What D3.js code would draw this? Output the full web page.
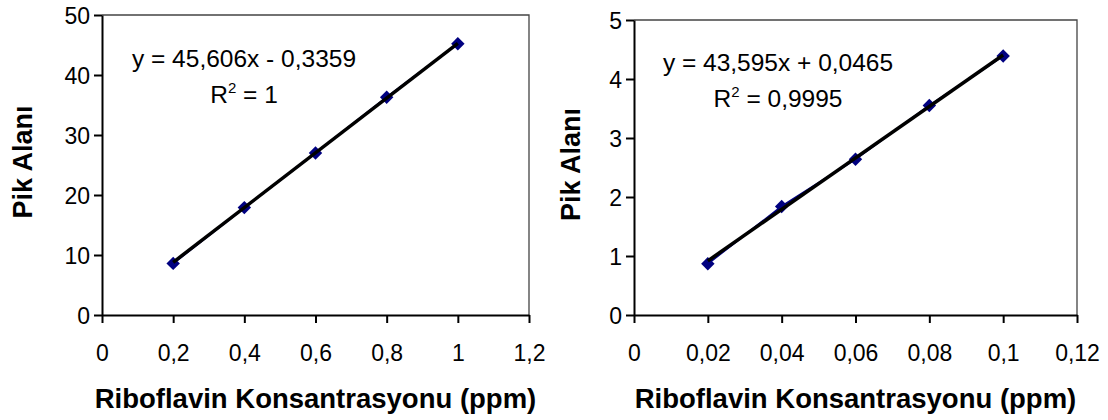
<!DOCTYPE html>
<html>
<head>
<meta charset="utf-8">
<script src="https://cdn.jsdelivr.net/npm/d3@7"></script>
<style>
  body { margin: 0; background: #fff; }
  svg { display: block; font-family: "Liberation Sans", Arial, sans-serif; }
</style>
</head>
<body>
<div id="chart"></div>
<script>
// Data
const concLeft = [0.2, 0.4, 0.6, 0.8, 1.0];
const areaLeft = [8.6, 17.9, 27.0, 36.3, 45.2];
const xTicksLeft = [0, 0.2, 0.4, 0.6, 0.8, 1.0, 1.2];
const yTicksLeft = [0, 10, 20, 30, 40, 50];
const fitLeft = { slope: 45.606, intercept: -0.3359, eq: "y = 45,606x - 0,3359", r2: "1" };

const concRight = [0.02, 0.04, 0.06, 0.08, 0.1];
const areaRight = [0.87, 1.84, 2.64, 3.55, 4.39];
const xTicksRight = [0, 0.02, 0.04, 0.06, 0.08, 0.1, 0.12];
const yTicksRight = [0, 1, 2, 3, 4, 5];
const fitRight = { slope: 43.595, intercept: 0.0465, eq: "y = 43,595x + 0,0465", r2: "0,9995" };

const xTitle = "Riboflavin Konsantrasyonu (ppm)";
const yTitle = "Pik Alanı";

const trLocale = d3.formatLocale({ decimal: ",", thousands: ".", grouping: [3], currency: ["", ""] });
const fmt = trLocale.format(".2~f");

const svg = d3.select("#chart").append("svg")
    .attr("width", 1108)
    .attr("height", 420);

function panel(opt) {
    const x = d3.scaleLinear().domain([0, d3.max(opt.xTicks)]).range([opt.left, opt.right]);
    const y = d3.scaleLinear().domain([0, d3.max(opt.yTicks)]).range([opt.bottom, opt.top]);
    const g = svg.append("g");

    // top and right frame
    g.append("path")
        .attr("d", `M${opt.left},${opt.top}H${opt.right}V${opt.bottom}`)
        .attr("fill", "none")
        .attr("stroke", "#444")
        .attr("stroke-width", 1.3);

    // x axis
    const xa = g.append("g")
        .attr("transform", `translate(0,${opt.bottom})`)
        .call(d3.axisBottom(x).tickValues(opt.xTicks).tickFormat(fmt).tickSize(8).tickSizeOuter(0).tickPadding(22));
    // y axis
    const ya = g.append("g")
        .attr("transform", `translate(${opt.left},0)`)
        .call(d3.axisLeft(y).tickValues(opt.yTicks).tickFormat(fmt).tickSize(8).tickSizeOuter(0).tickPadding(4));

    [xa, ya].forEach(a => {
        a.select(".domain").attr("stroke", "#000").attr("stroke-width", 2);
        a.selectAll(".tick line").attr("stroke", "#000").attr("stroke-width", 2);
        a.selectAll(".tick text").attr("fill", "#000").style("font-size", "23px")
            .style("font-family", "'Liberation Sans', Arial, sans-serif");
    });
    ya.selectAll(".tick text").attr("dy", "0.36em");

    // data series (navy line + diamonds)
    const pts = opt.xs.map((v, i) => [v, opt.ys[i]]);
    g.append("path")
        .attr("d", d3.line().x(d => x(d[0])).y(d => y(d[1]))(pts))
        .attr("fill", "none")
        .attr("stroke", "#000080")
        .attr("stroke-width", 2);

    g.selectAll(".pt")
        .data(pts)
        .enter()
        .append("path")
        .attr("class", "pt")
        .attr("transform", d => `translate(${x(d[0])},${y(d[1])})`)
        .attr("d", d3.symbol(d3.symbolDiamond2, 115)())
        .attr("fill", "#000080");

    // linear trendline
    const x0 = d3.min(opt.xs), x1 = d3.max(opt.xs);
    g.append("line")
        .attr("x1", x(x0)).attr("y1", y(opt.fit.slope * x0 + opt.fit.intercept))
        .attr("x2", x(x1)).attr("y2", y(opt.fit.slope * x1 + opt.fit.intercept))
        .attr("stroke", "#000")
        .attr("stroke-width", 3.5);

    // equation label
    g.append("text")
        .attr("x", opt.eqX).attr("y", opt.eqY)
        .attr("text-anchor", "middle")
        .style("font-size", "24.5px")
        .text(opt.fit.eq);
    const r = g.append("text")
        .attr("x", opt.eqX).attr("y", opt.eqY + 36)
        .attr("text-anchor", "middle")
        .style("font-size", "24.5px");
    r.append("tspan").text("R");
    r.append("tspan").attr("dy", -10).style("font-size", "15px").text("2");
    r.append("tspan").attr("dy", 10).text(" = " + opt.fit.r2);

    // axis titles
    g.append("text")
        .attr("x", (opt.left + opt.right) / 2).attr("y", 408)
        .attr("text-anchor", "middle")
        .style("font-size", "27.5px").style("font-weight", "bold")
        .text(xTitle);
    g.append("text")
        .attr("transform", `translate(${opt.yTitleX},${(opt.top + opt.bottom) / 2 - 3}) rotate(-90)`)
        .attr("text-anchor", "middle")
        .style("font-size", "27px").style("font-weight", "bold")
        .text(yTitle);
}

panel({ left: 102, right: 529, top: 15, bottom: 315, xTicks: xTicksLeft, yTicks: yTicksLeft,
        xs: concLeft, ys: areaLeft, fit: fitLeft, eqX: 244, eqY: 67, yTitleX: 32 });
panel({ left: 634, right: 1077, top: 20, bottom: 315, xTicks: xTicksRight, yTicks: yTicksRight,
        xs: concRight, ys: areaRight, fit: fitRight, eqX: 778, eqY: 71, yTitleX: 580 });
</script>
</body>
</html>
